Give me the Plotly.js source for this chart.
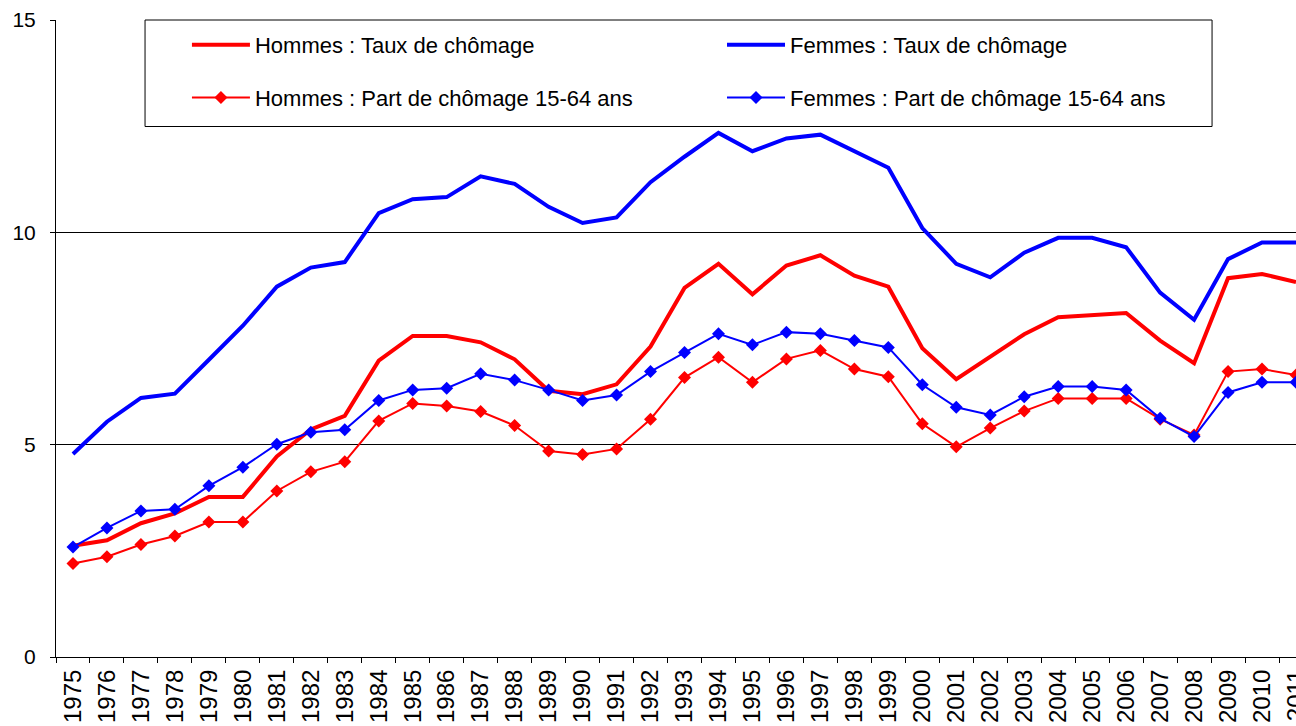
<!DOCTYPE html>
<html>
<head>
<meta charset="utf-8">
<script src="https://cdn.plot.ly/plotly-3.0.1.min.js"></script>
<style>
html, body { margin: 0; padding: 0; overflow: hidden; background: #fff; }
#chart { width: 1296px; height: 726px; }
</style>
</head>
<body>
<div id="chart"></div>
<script>
const years = ['1975','1976','1977','1978','1979','1980','1981','1982','1983','1984',
  '1985','1986','1987','1988','1989','1990','1991','1992','1993','1994',
  '1995','1996','1997','1998','1999','2000','2001','2002','2003','2004',
  '2005','2006','2007','2008','2009','2010','2011'];

const hommesTaux = [2.62, 2.75, 3.15, 3.38, 3.77, 3.77, 4.72, 5.36, 5.68, 6.98,
  7.56, 7.56, 7.41, 7.01, 6.27, 6.19, 6.42, 7.31, 8.69, 9.26,
  8.54, 9.22, 9.46, 8.98, 8.72, 7.27, 6.54, 7.06, 7.60, 8.00,
  8.04, 8.10, 7.45, 6.92, 8.92, 9.02, 8.83];

const femmesTaux = [4.78, 5.54, 6.10, 6.20, 7.00, 7.80, 8.72, 9.17, 9.30, 10.45,
  10.78, 10.83, 11.32, 11.14, 10.60, 10.22, 10.35, 11.18, 11.78, 12.34,
  11.91, 12.21, 12.30, 11.91, 11.52, 10.10, 9.26, 8.94, 9.52, 9.87,
  9.87, 9.65, 8.58, 7.94, 9.37, 9.76, 9.76];

const hommesPart = [2.20, 2.36, 2.65, 2.85, 3.18, 3.18, 3.91, 4.36, 4.60, 5.56,
  5.97, 5.91, 5.78, 5.45, 4.85, 4.77, 4.90, 5.60, 6.58, 7.06,
  6.47, 7.02, 7.22, 6.78, 6.60, 5.49, 4.95, 5.39, 5.79, 6.09,
  6.09, 6.09, 5.60, 5.23, 6.72, 6.78, 6.64];

const femmesPart = [2.59, 3.04, 3.44, 3.48, 4.03, 4.47, 5.01, 5.29, 5.35, 6.04,
  6.29, 6.33, 6.67, 6.52, 6.29, 6.04, 6.17, 6.72, 7.17, 7.61,
  7.35, 7.65, 7.61, 7.45, 7.29, 6.41, 5.88, 5.70, 6.13, 6.37,
  6.37, 6.29, 5.62, 5.19, 6.23, 6.47, 6.47];

const seriesNames = ['Hommes : Taux de chômage', 'Femmes : Taux de chômage',
  'Hommes : Part de chômage 15-64 ans', 'Femmes : Part de chômage 15-64 ans'];
const yTicks = [0, 5, 10, 15];

const RED = '#FF0000', BLUE = '#0000FF';
const FONT = '"Liberation Sans", Arial, sans-serif';

const traces = [
  { x: years, y: hommesTaux, name: seriesNames[0], type: 'scatter', mode: 'lines',
    line: { color: RED, width: 4 }, legend: 'legend' },
  { x: years, y: femmesTaux, name: seriesNames[1], type: 'scatter', mode: 'lines',
    line: { color: BLUE, width: 4 }, legend: 'legend2' },
  { x: years, y: hommesPart, name: seriesNames[2], type: 'scatter', mode: 'lines+markers',
    line: { color: RED, width: 2 }, marker: { symbol: 'diamond', size: 10, color: RED },
    legend: 'legend3' },
  { x: years, y: femmesPart, name: seriesNames[3], type: 'scatter', mode: 'lines+markers',
    line: { color: BLUE, width: 2 }, marker: { symbol: 'diamond', size: 10, color: BLUE },
    legend: 'legend4' }
];

function leg(x, y) {
  return { x: x, y: y, xanchor: 'left', yanchor: 'middle', orientation: 'v',
    bgcolor: 'rgba(0,0,0,0)', borderwidth: 0, itemwidth: 58,
    font: { family: FONT, size: 22, color: '#000' } };
}

const layout = {
  width: 1296, height: 726,
  margin: { l: 56, r: 0, t: 20, b: 69 },
  paper_bgcolor: '#fff', plot_bgcolor: '#fff',
  font: { family: FONT, color: '#000' },
  showlegend: true,
  legend: leg(0.1056, 0.9608),
  legend2: leg(0.5371, 0.9608),
  legend3: leg(0.1056, 0.878),
  legend4: leg(0.5371, 0.878),
  xaxis: {
    type: 'category', categoryorder: 'array', categoryarray: years,
    range: [-0.5, 36],
    tickmode: 'array', tickvals: years, ticktext: years,
    tickangle: -90, tickson: 'boundaries', ticks: 'outside', ticklen: 5, tickcolor: '#000',
    showline: true, linecolor: '#000', linewidth: 1, mirror: false,
    showgrid: false, zeroline: false,
    ticklabelstandoff: 2,
    tickfont: { family: FONT, size: 24, color: '#000' }
  },
  yaxis: {
    range: [0, 15], tickvals: yTicks, ticktext: yTicks.map(String),
    ticks: 'outside', ticklen: 5, tickcolor: '#000',
    showline: true, linecolor: '#000', linewidth: 1,
    showgrid: true, gridcolor: '#000', gridwidth: 1, zeroline: false,
    ticklabelstandoff: 10,
    tickfont: { family: FONT, size: 21, color: '#000' }
  },
  shapes: [
    { type: 'rect', xref: 'paper', yref: 'paper', x0: 0.0718, x1: 0.9323, y0: 0.8328, y1: 1.0,
      line: { color: '#000', width: 1 }, fillcolor: 'rgba(0,0,0,0)', layer: 'above' }
  ]
};

Plotly.newPlot('chart', traces, layout, { displayModeBar: false, staticPlot: true });
</script>
</body>
</html>
